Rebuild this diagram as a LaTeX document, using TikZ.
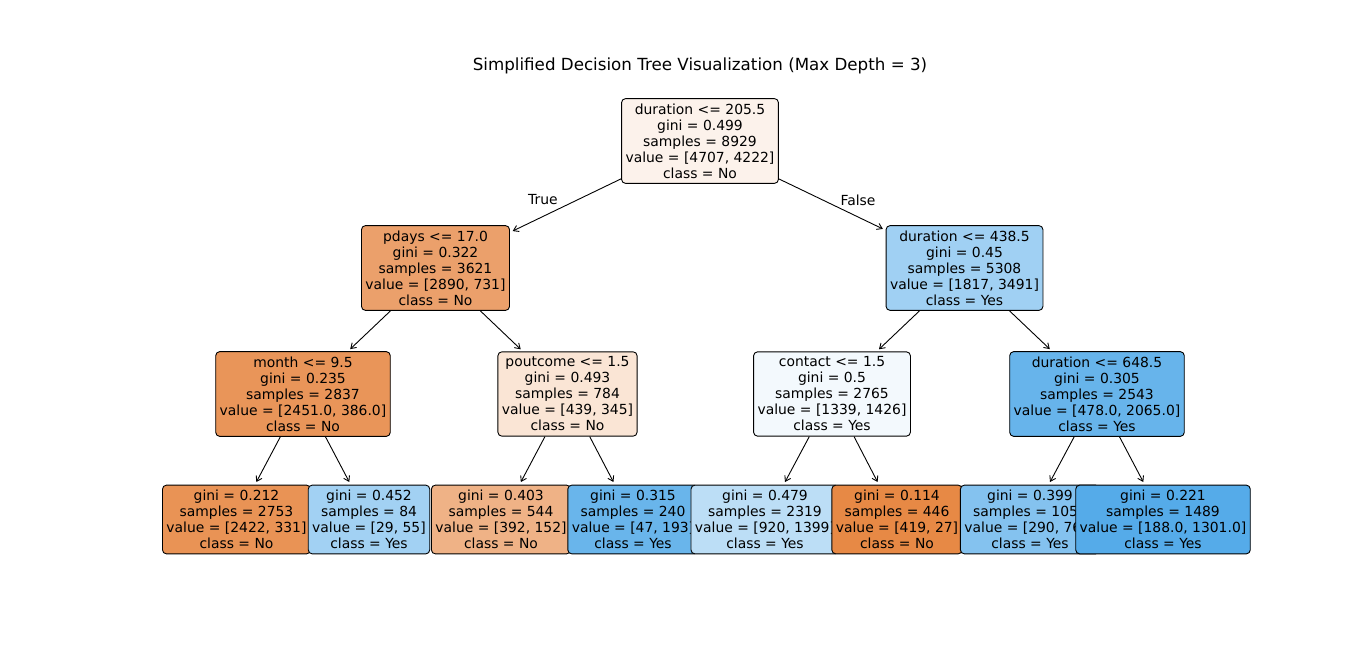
\documentclass[tikz,border=0pt]{standalone}
\usepackage{fontspec}
\setmainfont{DejaVu Sans}
\usepackage{tikz}
\usetikzlibrary{positioning,arrows.meta}

\definecolor{clsno}{RGB}{229,129,57}
\definecolor{clsyes}{RGB}{57,157,229}

\begin{document}
\begin{tikzpicture}[x=1pt, y=1pt,
		box/.style={rectangle, draw, rounded corners=4pt, line width=0.9pt, align=center, inner xsep=4pt, inner ysep=5pt, font=\fontsize{13.9}{16}\selectfont},
		>={Straight Barb[length=5pt,width=6.5pt]}]
		\path[fill=white, use as bounding box] (0,0) rectangle (1366,-655);

		\node (title) at (700,-65.5) {\fontsize{16.7}{20}\selectfont Simplified Decision Tree Visualization (Max Depth = 3)};

		% drawn in the order the tree is walked, later boxes cover earlier ones
		\node (root) [box, fill=clsno!10!white] at (700,-141) {duration <= 205.5\\gini = 0.499\\samples = 8929\\value = [4707, 4222]\\class = No};
		\node (pdays) [box, fill=clsno!75!white] at (435.5,-268) {pdays <= 17.0\\gini = 0.322\\samples = 3621\\value = [2890, 731]\\class = No};
		\node (month) [box, fill=clsno!84!white] at (303,-394) {month <= 9.5\\gini = 0.235\\samples = 2837\\value = [2451.0, 386.0]\\class = No};
		\node (leafa) [box, fill=clsno!86!white] at (236.5,-519.5) {gini = 0.212\\samples = 2753\\value = [2422, 331]\\class = No};
		\node (leafb) [box, fill=clsyes!47!white] at (369,-519.5) {gini = 0.452\\samples = 84\\value = [29, 55]\\class = Yes};
		\node (pout) [box, fill=clsno!21!white] at (567.5,-394) {poutcome <= 1.5\\gini = 0.493\\samples = 784\\value = [439, 345]\\class = No};
		\node (leafc) [box, fill=clsno!61!white] at (501,-519.5) {gini = 0.403\\samples = 544\\value = [392, 152]\\class = No};
		\node (leafd) [box, fill=clsyes!76!white] at (633,-519.5) {gini = 0.315\\samples = 240\\value = [47, 193]\\class = Yes};
		\node (durb) [box, fill=clsyes!48!white] at (964.5,-268) {duration <= 438.5\\gini = 0.45\\samples = 5308\\value = [1817, 3491]\\class = Yes};
		\node (contact) [box, fill=clsyes!6!white] at (832,-394) {contact <= 1.5\\gini = 0.5\\samples = 2765\\value = [1339, 1426]\\class = Yes};
		\node (leafe) [box, fill=clsyes!34!white] at (765,-519.5) {gini = 0.479\\samples = 2319\\value = [920, 1399]\\class = Yes};
		\node (leaff) [box, fill=clsno!94!white] at (897,-519.5) {gini = 0.114\\samples = 446\\value = [419, 27]\\class = No};
		\node (durc) [box, fill=clsyes!77!white] at (1097,-394) {duration <= 648.5\\gini = 0.305\\samples = 2543\\value = [478.0, 2065.0]\\class = Yes};
		\node (leafg) [box, fill=clsyes!62!white] at (1030,-519.5) {gini = 0.399\\samples = 1054\\value = [290, 764]\\class = Yes};
		\node (leafh) [box, fill=clsyes!86!white] at (1163,-519.5) {gini = 0.221\\samples = 1489\\value = [188.0, 1301.0]\\class = Yes};

		\node (true) at (543,-200) {\fontsize{13.9}{16}\selectfont True};
		\node (false) at (858,-200) {\fontsize{13.9}{16}\selectfont False};

		\draw[->, line width=0.9pt, shorten >=3pt] (root) -- (pdays);
		\draw[->, line width=0.9pt, shorten >=3pt] (root) -- (durb);
		\draw[->, line width=0.9pt, shorten >=3pt] (pdays) -- (month);
		\draw[->, line width=0.9pt, shorten >=3pt] (pdays) -- (pout);
		\draw[->, line width=0.9pt, shorten >=3pt] (month) -- (leafa);
		\draw[->, line width=0.9pt, shorten >=3pt] (month) -- (leafb);
		\draw[->, line width=0.9pt, shorten >=3pt] (pout) -- (leafc);
		\draw[->, line width=0.9pt, shorten >=3pt] (pout) -- (leafd);
		\draw[->, line width=0.9pt, shorten >=3pt] (durb) -- (contact);
		\draw[->, line width=0.9pt, shorten >=3pt] (durb) -- (durc);
		\draw[->, line width=0.9pt, shorten >=3pt] (contact) -- (leafe);
		\draw[->, line width=0.9pt, shorten >=3pt] (contact) -- (leaff);
		\draw[->, line width=0.9pt, shorten >=3pt] (durc) -- (leafg);
		\draw[->, line width=0.9pt, shorten >=3pt] (durc) -- (leafh);

	\end{tikzpicture}
\end{document}
